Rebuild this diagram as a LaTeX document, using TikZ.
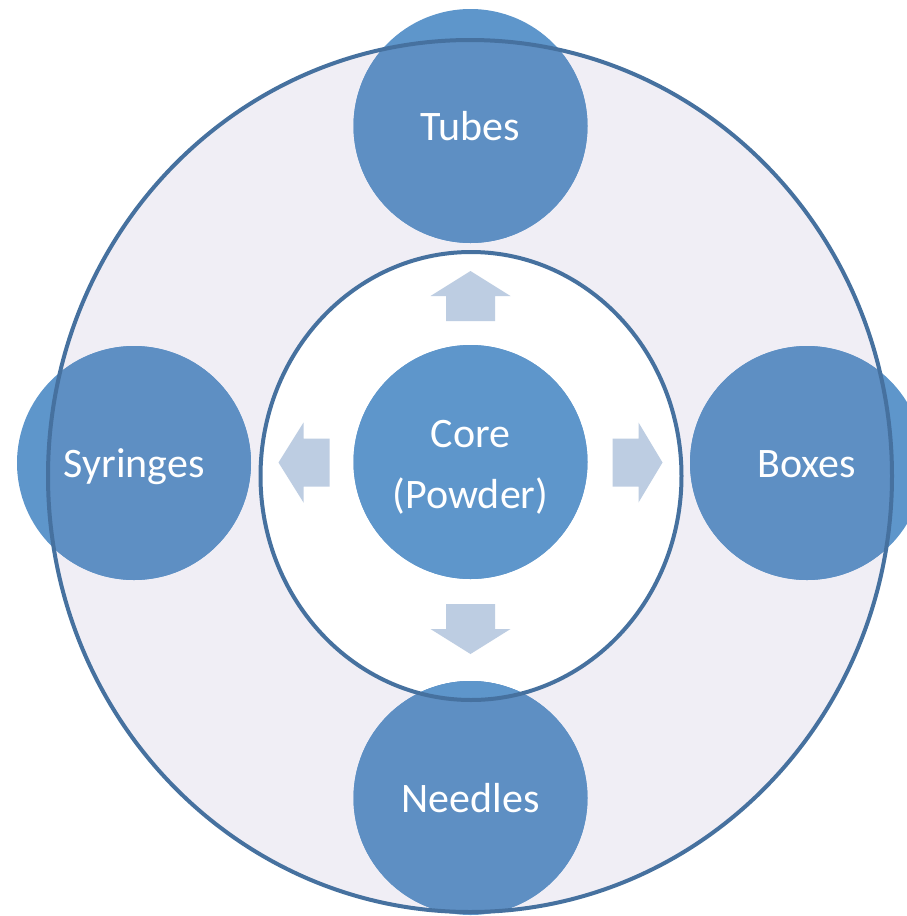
\documentclass[tikz,border=0pt]{standalone}
\usepackage{fontspec}
\setmainfont{Carlito}
\usetikzlibrary{shapes.geometric}
\definecolor{ringfill}{HTML}{F0EEF5}
\definecolor{ringline}{HTML}{46719F}
\definecolor{blobA}{HTML}{5E96CB}
\definecolor{blobB}{HTML}{5E8FC3}
\definecolor{arrowc}{HTML}{BDCDE2}
\tikzset{
  ringstroke/.style={draw=ringline, line width=4pt},
  blobtext/.style={text=white, font=\fontsize{42}{61}\selectfont, inner sep=0pt, anchor=base},
  blobshape/.style={circle, minimum size=234pt, inner sep=0pt},
  flowarrow/.style={fill=arrowc, draw=none},
}
\begin{document}
\begin{tikzpicture}[x=1pt,y=-1pt]
\useasboundingbox (0,0) rectangle (907,916);
% centres
\coordinate (cTubes) at (470.5,126);
\coordinate (cSyr) at (134,463);
\coordinate (cBox) at (807,463);
\coordinate (cNeed) at (470.5,798);
\coordinate (cCore) at (470.5,462);
\coordinate (cRing) at (470,476);
\coordinate (cInner) at (471,476);
% ring fills
\fill[ringfill] (cRing) ellipse [x radius=422pt, y radius=436pt];
\fill[white] (cInner) ellipse [x radius=210.5pt, y radius=224pt];
% circles: light colour everywhere
\foreach \c in {cTubes,cSyr,cBox,cNeed,cCore}
  \fill[blobA] (\c) circle [radius=117pt];
% darker inside the lavender ring
\begin{scope}
  \clip (cRing) ellipse [x radius=422pt, y radius=436pt];
  \foreach \c in {cTubes,cSyr,cBox,cNeed}
    \fill[blobB] (\c) circle [radius=117pt];
\end{scope}
\begin{scope}
  \clip (cInner) ellipse [x radius=210.5pt, y radius=224pt];
  \foreach \c in {cTubes,cNeed,cCore}
    \fill[blobA] (\c) circle [radius=117pt];
\end{scope}
% ring strokes
\node[ellipse, minimum width=844pt, minimum height=872pt, inner sep=0pt, ringstroke] (outer) at (cRing) {};
\node[ellipse, minimum width=421pt, minimum height=448pt, inner sep=0pt, ringstroke] (inner) at (cInner) {};
% named circle nodes
\node[blobshape] (tubes) at (cTubes) {};
\node[blobshape] (syringes) at (cSyr) {};
\node[blobshape] (boxes) at (cBox) {};
\node[blobshape] (needles) at (cNeed) {};
\node[blobshape] (core) at (cCore) {};
% arrows
\fill[flowarrow] (446,321) -- (446,296) -- (430.5,296) -- (470.5,271) -- (510.5,296) -- (495,296) -- (495,321) -- cycle;
\fill[flowarrow] (446,604) -- (495,604) -- (495,629) -- (510.5,629) -- (470.5,654) -- (430.5,629) -- (446,629) -- cycle;
\fill[flowarrow] (329.5,438.5) -- (303.5,438.5) -- (303.5,422.5) -- (278.5,462.5) -- (303.5,502.5) -- (303.5,486.5) -- (329.5,486.5) -- cycle;
\fill[flowarrow] (612.5,438.5) -- (638.5,438.5) -- (638.5,422.5) -- (662.5,462.5) -- (638.5,502.5) -- (638.5,486.5) -- (612.5,486.5) -- cycle;
% labels
\node[blobtext] (tTubes) at (470.5,140) {Tubes};
\node[blobtext] (tSyr) at (134,477) {Syringes};
\node[blobtext] (tBox) at (807,477) {Boxes};
\node[blobtext] (tNeed) at (470.5,812) {Needles};
\node[blobtext] (tCore1) at (470.5,447) {Core};
\node[blobtext] (tCore2) at (470.5,508) {(Powder)};
\end{tikzpicture}
\end{document}
